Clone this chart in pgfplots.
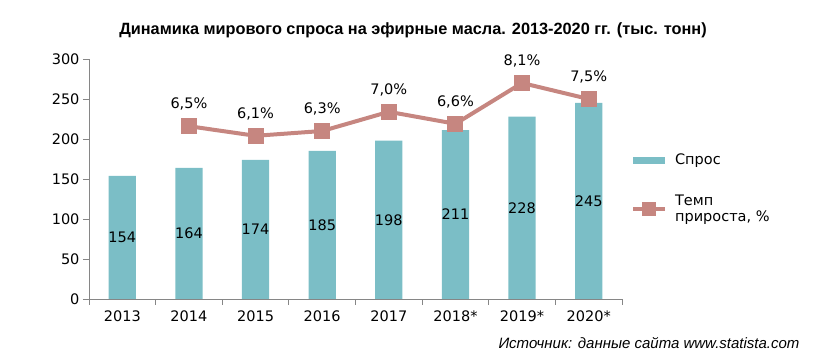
\documentclass[border=0pt]{standalone}
\usepackage{fontspec}
\setmainfont{DejaVu Sans}
\newfontfamily\arialfont{Liberation Sans}
\usepackage{pgfplots}
\pgfplotsset{compat=1.18}
\definecolor{barc}{RGB}{123,190,198}
\definecolor{linec}{RGB}{198,134,128}
\definecolor{axc}{RGB}{134,134,134}
\begin{document}
\begin{tikzpicture}[x=1pt,y=1pt]
\path[use as bounding box] (-89,-59) rectangle (735,299);
\begin{axis}[
  at={(0,0)}, anchor=south west,
  scale only axis, width=533pt, height=240pt,
  xmin=-0.5, xmax=7.5, ymin=0, ymax=300,
  axis x line=bottom, axis y line=left,
  axis line style={draw=axc, line width=0.8pt, -},
  every tick/.style={draw=axc, line width=0.8pt},
  tick align=outside,
  xtick={0,...,7},
  xticklabels={2013,2014,2015,2016,2017,2018*,2019*,2020*},
  major x tick style={draw=none},
  minor xtick={-0.5,0.5,...,7.5},
  minor tick length=6pt,
  ytick={0,50,...,300},
  major tick length=6pt,
  ticklabel style={font=\fontsize{14.5}{17}\selectfont, text=black},
  /pgf/number format/assume math mode=true,
  xticklabel style={yshift=-2pt},
  legend style={draw=none, at={(1.012,0.622)}, anchor=north west,
    font=\fontsize{14.5}{16}\selectfont, row sep=25pt, cells={align=left},
    nodes={inner xsep=8pt}},
  legend cell align=left,
  clip=false,
]
\addplot[ybar, bar width=0.41, fill=barc, draw=none,
  nodes near coords,
  visualization depends on=rawy\as\rawy,
  every node near coord/.append style={anchor=center, font=\fontsize{14.5}{17}\selectfont, text=black,
     shift={(axis direction cs:0,-\rawy/2)}},
  legend image code/.code={\fill[barc] (0pt,-3.5pt) rectangle (32pt,3.5pt);}
] coordinates {(0,154) (1,164) (2,174) (3,185) (4,198) (5,211) (6,228) (7,245)};
\addlegendentry{Спрос}
\addplot[color=linec, line width=4pt, mark=square*, mark size=6pt,
  mark options={fill=linec, draw=none},
  nodes near coords, point meta=explicit symbolic,
  every node near coord/.append style={anchor=center, yshift=22pt, font=\fontsize{14.5}{17}\selectfont, text=black},
  legend image code/.code={\draw[linec, line width=3.5pt] (0pt,0pt)--(32pt,0pt); \fill[linec] (11pt,-5pt) rectangle (21pt,5pt);}
] coordinates {(1,216) [6,5\%] (2,204) [6,1\%] (3,210) [6,3\%] (4,234) [7,0\%] (5,219) [6,6\%] (6,270) [8,1\%] (7,250) [7,5\%]};
\addlegendentry{Темп\\прироста, \%}
\end{axis}
\node[font=\arialfont\bfseries\fontsize{16.3}{18}\selectfont] at (324,269) {Динамика мирового спроса на эфирные масла. 2013-2020 гг. (тыс. тонн)};
\node[font=\arialfont\itshape\fontsize{15}{17}\selectfont, anchor=east] at (714,-44) {Источник: данные сайта www.statista.com};
\end{tikzpicture}
\end{document}
